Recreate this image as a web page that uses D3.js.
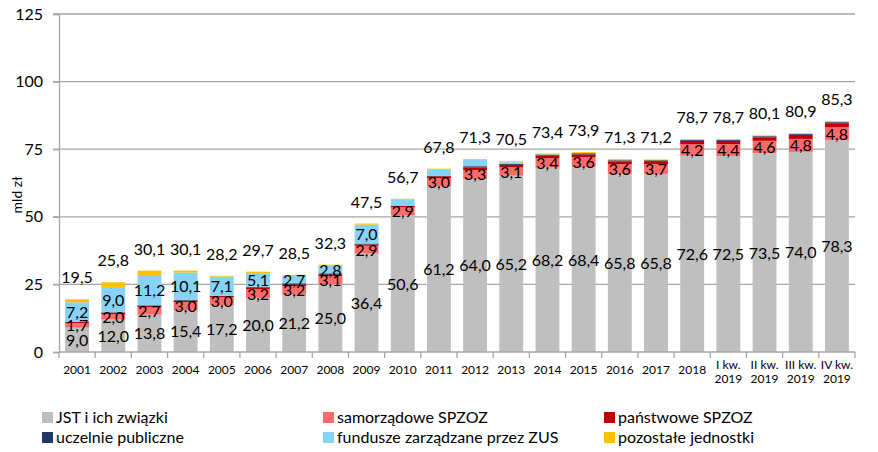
<!DOCTYPE html>
<html><head><meta charset="utf-8">
<script src="https://cdn.jsdelivr.net/npm/d3@7"></script>
<style>body{margin:0;background:#fff;} svg{display:block;font-family:Lato,"Open Sans",sans-serif;}</style>
</head><body>
<svg id="chart" width="878" height="452"></svg>
<script>
const categories = ["2001","2002","2003","2004","2005","2006","2007","2008","2009","2010","2011","2012","2013","2014","2015","2016","2017","2018","I kw.\n2019","II kw.\n2019","III kw.\n2019","IV kw.\n2019"];
const jst        = [9.0,12.0,13.8,15.4,17.2,20.0,21.2,25.0,36.4,50.6,61.2,64.0,65.2,68.2,68.4,65.8,65.8,72.6,72.5,73.5,74.0,78.3];
const samorzad   = [1.7,2.0,2.7,3.0,3.0,3.2,3.2,3.1,2.9,2.9,3.0,3.3,3.1,3.4,3.6,3.6,3.7,4.2,4.4,4.6,4.8,4.8];
const panstw     = [0.4,0.5,0.6,0.6,0.5,0.6,0.6,0.6,0.5,0.5,0.8,1.0,0.9,1.0,1.1,1.1,1.1,1.3,1.2,1.3,1.5,1.5];
const uczelnie   = [0.1,0.2,0.2,0.3,0.1,0.3,0.4,0.4,0.3,0.1,0.2,0.4,0.4,0.4,0.4,0.4,0.3,0.3,0.3,0.4,0.3,0.4];
const zus        = [7.2,9.0,11.2,10.1,7.1,5.1,2.7,2.8,7.0,2.4,2.2,2.3,0.6,0.1,0.1,0.0,0.0,0.0,0.0,0.0,0.0,0.0];
const pozostale  = [1.1,2.1,1.6,0.7,0.3,0.5,0.4,0.4,0.4,0.2,0.4,0.3,0.3,0.3,0.3,0.4,0.3,0.3,0.3,0.3,0.3,0.3];
const totals     = [19.5,25.8,30.1,30.1,28.2,29.7,28.5,32.3,47.5,56.7,67.8,71.3,70.5,73.4,73.9,71.3,71.2,78.7,78.7,80.1,80.9,85.3];
const seriesNames = ["JST i ich związki","samorządowe SPZOZ","państwowe SPZOZ","uczelnie publiczne","fundusze zarządzane przez ZUS","pozostałe jednostki"];
const seriesColors = ["#BFBFBF","#FF6B6B","#C00000","#1F3864","#87D3F8","#FFC000"];
const yTicks = [0,25,50,75,100,125];
const labelled = [true,true,false,false,true,false];
const zusLabelledCount = 9; // ZUS values are labelled only 2001–2009 in the source

const seriesVals = [jst,samorzad,panstw,uczelnie,zus,pozostale];
const data = categories.map((c,i)=>{const o={cat:c,idx:i}; seriesNames.forEach((s,k)=>o[s]=seriesVals[k][i]); o.total=totals[i]; return o;});

const svg = d3.select("#chart");
const m = {left:59, right:23, top:14, bottom:100};
const W = 878, H = 452;
const x = d3.scaleBand().domain(categories).range([m.left, W-m.right]).paddingInner(0.34).paddingOuter(0.17);
const y = d3.scaleLinear().domain([0,125]).range([H-m.bottom, m.top]);

svg.append("g").selectAll("line").data(yTicks.filter(t=>t>0)).join("line")
  .attr("x1", m.left-6).attr("x2", W-m.right).attr("y1", d=>y(d)).attr("y2", d=>y(d))
  .attr("stroke","#A6A6A6").attr("stroke-width",1.3);

const yAxis = svg.append("g").attr("transform",`translate(${m.left},0)`)
  .call(d3.axisLeft(y).tickValues(yTicks).tickSize(6).tickPadding(10).tickFormat(d3.format("d")));
yAxis.select(".domain").attr("stroke","#A6A6A6").attr("stroke-width",1.3);
yAxis.selectAll(".tick line").attr("stroke","#A6A6A6").attr("stroke-width",1.3);
yAxis.selectAll("text").attr("font-size",16).attr("fill","#000").attr("font-family","Lato");

svg.append("text").attr("transform",`translate(22,${195}) rotate(-90)`).attr("text-anchor","middle")
  .attr("font-size",14).attr("fill","#000").text("mld zł");

const stack = d3.stack().keys(seriesNames)(data);
svg.append("g").selectAll("g").data(stack).join("g").attr("fill",(d,i)=>seriesColors[i])
  .selectAll("rect").data(d=>d).join("rect")
  .attr("x", d=>x(d.data.cat)).attr("width", x.bandwidth())
  .attr("y", d=>y(d[1])).attr("height", d=>Math.max(0,y(d[0])-y(d[1])));

const xb = svg.append("g").attr("transform",`translate(0,${y(0)})`);
xb.append("line").attr("x1",m.left).attr("x2",W-m.right).attr("stroke","#A6A6A6").attr("stroke-width",1.3);
const step = x.step();
const bounds = d3.range(categories.length+1).map(i=>m.left + i*step);
xb.selectAll(".tk").data(bounds).join("line").attr("x1",d=>d).attr("x2",d=>d).attr("y1",0).attr("y2",6)
  .attr("stroke","#A6A6A6").attr("stroke-width",1.3);
xb.selectAll(".xl").data(categories).join("text")
  .attr("x", d=>x(d)+x.bandwidth()/2).attr("text-anchor","middle").attr("font-size",12).attr("fill","#000")
  .each(function(d){
    const lines = d.split("\n");
    const t = d3.select(this);
    if(lines.length===1){ t.append("tspan").attr("x",x(d)+x.bandwidth()/2).attr("y",22).text(lines[0]); }
    else { lines.forEach((l,i)=>t.append("tspan").attr("x",x(d)+x.bandwidth()/2).attr("y",17+i*14).text(l)); }
  });

const fmt = v=>d3.format(".1f")(v).replace(".",",");
stack.forEach((s,k)=>{
  if(!labelled[k]) return;
  const pts = s.filter(d=>d[1]-d[0]>0.05 && (k!==4 || d.data.idx<zusLabelledCount));
  svg.append("g").selectAll("text").data(pts).join("text")
    .attr("x", d=>x(d.data.cat)+x.bandwidth()/2).attr("y", d=>(y(d[0])+y(d[1]))/2+6)
    .attr("text-anchor","middle").attr("font-size",16).attr("fill","#000")
    .text(d=>fmt(d[1]-d[0]));
});
svg.append("g").selectAll("text").data(data).join("text")
  .attr("x", d=>x(d.cat)+x.bandwidth()/2).attr("y", d=>y(d.total)-16)
  .attr("text-anchor","middle").attr("font-size",16).attr("fill","#000").text(d=>fmt(d.total));

const lg = svg.append("g");
const lx = [42,323,604], ly=[418,438];
seriesNames.forEach((s,i)=>{
  const gx = lx[i%3], gy = ly[Math.floor(i/3)];
  lg.append("rect").attr("x",gx).attr("y",gy-6).attr("width",11).attr("height",11).attr("fill",seriesColors[i]);
  lg.append("text").attr("x",gx+14).attr("y",gy+5).attr("font-size",16).attr("fill","#000").text(s);
});
</script>
</body></html>
